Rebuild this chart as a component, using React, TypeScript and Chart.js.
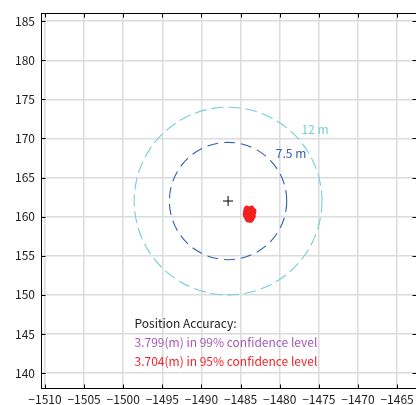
import React, { useEffect, useRef } from "react";
import { Chart, registerables } from "chart.js";

Chart.register(...registerables);

const xRange = [-1510.51, -1462.58];
const yRange = [138.09, 186.02];
const tickStep = 5;

const centerX = -1486.6;
const centerY = 162.0;
const circleRadii = [12, 7.5];
const circleColors = ["#74cfd9", "#2f5fae"];
const circleLabels = ["12 m", "7.5 m"];
const circleLabelX = [-1477.2, -1480.5];
const circleLabelY = [171.2, 168.05];

const fixX = [
  -1484.2, -1483.6, -1484.3, -1483.5, -1483.9, -1484.35, -1484.0, -1483.65, -1483.35,
  -1484.4, -1484.1, -1483.8, -1483.45, -1484.3, -1484.0, -1483.7, -1483.4, -1484.15,
  -1483.85, -1483.55, -1484.05, -1483.75, -1483.6, -1483.9, -1484.25, -1483.3,
];
const fixY = [
  161.1, 161.1, 160.9, 160.9, 160.85, 160.6, 160.6, 160.6, 160.5,
  160.3, 160.3, 160.3, 160.25, 160.05, 160.0, 160.0, 160.05, 159.8,
  159.75, 159.75, 159.6, 159.55, 159.7, 160.9, 160.75, 160.75,
];

const noteX = -1498.56;
const noteLines = [
  "Position Accuracy:",
  "3.799(m) in 99% confidence level",
  "3.704(m) in 95% confidence level",
];
const noteY = [146.4, 143.95, 141.5];
const noteColors = ["#222222", "#a55ab4", "#f4232a"];

const FONT = "'Noto Sans CJK JP', 'Noto Sans', sans-serif";

const fmt = (v: number | string) => String(v).replace("-", "\u2212");

const overlay = {
  id: "overlay",
  beforeDatasetsDraw(chart: any) {
    const { ctx, scales } = chart;
    const xs = scales.x;
    const ys = scales.y;
    const cx = xs.getPixelForValue(centerX);
    const cy = ys.getPixelForValue(centerY);
    ctx.save();
    circleRadii.forEach((r, i) => {
      const rx = Math.abs(xs.getPixelForValue(centerX + r) - cx);
      const ry = Math.abs(ys.getPixelForValue(centerY + r) - cy);
      ctx.beginPath();
      ctx.setLineDash(i === 0 ? [12, 5] : [11, 6]);
      ctx.strokeStyle = circleColors[i];
      ctx.lineWidth = 1.1;
      ctx.ellipse(cx, cy, rx, ry, 0, 0, Math.PI * 2);
      ctx.stroke();
    });
    ctx.setLineDash([]);
    ctx.font = `12px ${FONT}`;
    ctx.textBaseline = "middle";
    ctx.textAlign = "left";
    circleLabels.forEach((t, i) => {
      ctx.fillStyle = circleColors[i];
      ctx.fillText(t, xs.getPixelForValue(circleLabelX[i]), ys.getPixelForValue(circleLabelY[i]));
    });
    ctx.restore();
  },
  afterDatasetsDraw(chart: any) {
    const { ctx, scales, chartArea } = chart;
    const xs = scales.x;
    const ys = scales.y;
    ctx.save();
    ctx.font = `12px ${FONT}`;
    ctx.textBaseline = "middle";
    ctx.textAlign = "left";
    noteLines.forEach((t, i) => {
      ctx.fillStyle = noteColors[i];
      ctx.fillText(t, xs.getPixelForValue(noteX), ys.getPixelForValue(noteY[i]));
    });
    ctx.strokeStyle = "#000";
    ctx.lineWidth = 1;
    const l = Math.round(chartArea.left) + 0.5;
    const r = Math.round(chartArea.right) + 0.5;
    const t = Math.round(chartArea.top) + 0.5;
    const b = Math.round(chartArea.bottom) + 0.5;
    ctx.strokeRect(l, t, r - l, b - t);
    const len = 4;
    ctx.beginPath();
    xs.ticks.forEach((tk: any) => {
      const px = Math.round(xs.getPixelForValue(tk.value)) + 0.5;
      ctx.moveTo(px, b);
      ctx.lineTo(px, b - len);
      ctx.moveTo(px, t);
      ctx.lineTo(px, t + len);
    });
    ys.ticks.forEach((tk: any) => {
      const py = Math.round(ys.getPixelForValue(tk.value)) + 0.5;
      ctx.moveTo(l, py);
      ctx.lineTo(l + len, py);
      ctx.moveTo(r, py);
      ctx.lineTo(r - len, py);
    });
    ctx.stroke();
    ctx.restore();
  },
};

export default function App() {
  const ref = useRef<HTMLCanvasElement | null>(null);
  useEffect(() => {
    if (!ref.current) return;
    const fixes = fixX.map((x, i) => ({ x, y: fixY[i] }));
    const chart = new Chart(ref.current, {
      type: "scatter",
      data: {
        datasets: [
          {
            data: fixes,
            backgroundColor: "#f42020",
            borderWidth: 0,
            pointRadius: 2.6,
          },
          {
            data: [{ x: centerX, y: centerY }],
            pointStyle: "cross",
            pointRadius: 5,
            borderColor: "#000",
            borderWidth: 1,
          },
        ],
      },
      options: {
        animation: false,
        responsive: false,
        events: [],
        layout: { padding: { top: 12, right: 4, left: 0, bottom: 0 } },
        plugins: { legend: { display: false }, tooltip: { enabled: false } },
        scales: {
          x: {
            type: "linear",
            min: xRange[0],
            max: xRange[1],
            afterFit: (s: any) => {
              s.height = 22;
            },
            grid: { color: "#dcdcdc", lineWidth: 1.5, drawTicks: false },
            border: { display: false },
            ticks: {
              stepSize: tickStep,
              includeBounds: false,
              padding: 4,
              color: "#222",
              font: { family: FONT, size: 12 },
              maxRotation: 0,
              autoSkip: false,
              callback: (v: any) => fmt(v),
            },
          },
          y: {
            type: "linear",
            min: yRange[0],
            max: yRange[1],
            afterFit: (s: any) => {
              s.width = 41;
            },
            grid: { color: "#dcdcdc", lineWidth: 1.5, drawTicks: false },
            border: { display: false },
            ticks: {
              stepSize: tickStep,
              includeBounds: false,
              padding: 6,
              color: "#222",
              font: { family: FONT, size: 12 },
              autoSkip: false,
              callback: (v: any) => fmt(v),
            },
          },
        },
      },
      plugins: [overlay],
    });
    return () => chart.destroy();
  }, []);
  return (
    <div
      style={{
        position: "fixed",
        left: 0,
        top: 0,
        width: 416,
        height: 405,
        overflow: "hidden",
        background: "#fff",
      }}
    >
      <canvas ref={ref} width={422} height={410} style={{ display: "block" }} />
    </div>
  );
}
